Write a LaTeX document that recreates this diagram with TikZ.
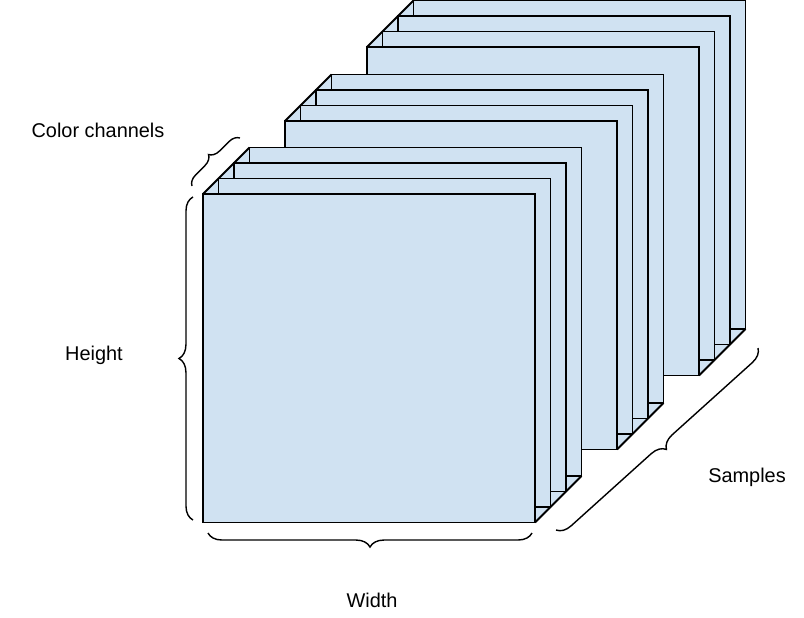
\documentclass[tikz,border=0pt]{standalone}
\usepackage{fontspec}
\setmainfont{Liberation Sans}
\usetikzlibrary{decorations.pathreplacing}
\definecolor{slab}{HTML}{D0E2F2}
\tikzset{layer/.style={fill=slab,draw=black,line width=1.6pt},
 brc/.style={decorate,decoration={brace,amplitude=12pt},line width=1.2pt},
 lbl/.style={font=\fontsize{17}{20}\selectfont,inner sep=0pt}}
\newcommand{\mystack}[3]{% x y (front layer top-left), name
 \fill[slab] (#1,#2) -- (#1+46.5,#2-46.5) -- (#1+378.5,#2-46.5) -- (#1+378.5,#2+282) -- (#1+332,#2+328.5) -- (#1,#2+328.5) -- cycle;
 \foreach \i in {3,2,1,0}{\draw[layer] (#1+15.5*\i,#2-15.5*\i) rectangle (#1+332+15.5*\i,#2+328.5-15.5*\i);}
 \coordinate (#3tl) at (#1,#2); \coordinate (#3tb) at (#1+46.5,#2-46.5);
 \coordinate (#3br) at (#1+332,#2+328.5); \coordinate (#3bb) at (#1+378.5,#2+282);
 \draw[line width=1.6pt] (#3tl) -- (#3tb) (#3br) -- (#3bb);
}
\begin{document}
\begin{tikzpicture}[x=0.03cm,y=-0.03cm]
\useasboundingbox (0,0) rectangle (804,618);
\mystack{367}{47}{c}
\mystack{285}{121}{b}
\mystack{203}{194}{a}
\coordinate (h1) at (193,520); \coordinate (h2) at (193,197);
\coordinate (w1) at (532,533); \coordinate (w2) at (208,533);
\coordinate (c1) at (192,186); \coordinate (c2) at (240,138);
\coordinate (s1) at (758,348); \coordinate (s2) at (556,530);
\draw[brc] (h1) -- (h2);
\draw[brc] (w1) -- (w2);
\draw[brc,decoration={amplitude=9pt}] (c1) -- (c2);
\draw[brc] (s1) -- (s2);
\node[lbl] (ht) at (94,355) {Height};
\node[lbl] (wt) at (372,600) {Width};
\node[lbl] (ct) at (98,130) {Color channels};
\node[lbl] (st) at (747,477) {Samples};
\end{tikzpicture}
\end{document}
